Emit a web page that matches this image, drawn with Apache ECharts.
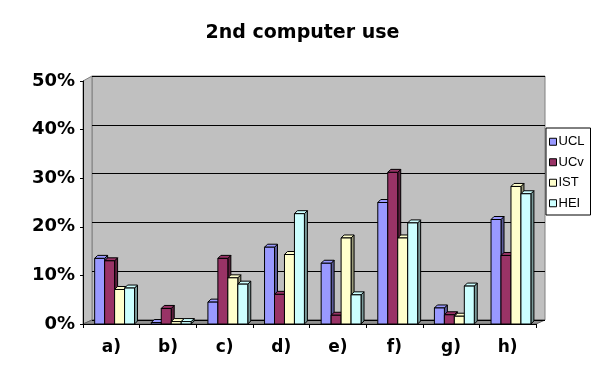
<!DOCTYPE html>
<html>
<head>
<meta charset="utf-8">
<script src="https://cdn.jsdelivr.net/npm/echarts@6/dist/echarts.min.js"></script>
<style>
  html, body { margin: 0; padding: 0; background: #fff; }
  #main { width: 605px; height: 376px; }
</style>
</head>
<body>
<div id="main"></div>
<script>
// categories and values (percent)
var categories = ['a)', 'b)', 'c)', 'd)', 'e)', 'f)', 'g)', 'h)'];
var seriesNames = ['UCL', 'UCv', 'IST', 'HEI'];
var ucl = [13.5, 0.3, 4.5, 15.8, 12.5, 25.0, 3.3, 21.5];
var ucv = [13.0, 3.2, 13.5, 6.1, 1.8, 31.2, 1.9, 14.1];
var ist = [7.1, 0.5, 9.5, 14.3, 17.7, 17.7, 1.6, 28.3];
var hei = [7.4, 0.5, 8.2, 22.7, 6.0, 20.8, 7.8, 26.8];
var yTicks = [0, 10, 20, 30, 40, 50];

var colors = ['#9999ff', '#993366', '#ffffcc', '#ccffff'];
var sides = ['#5c5c99', '#5c1f3d', '#99997a', '#7a9999'];
var font = 'Liberation Sans, Arial, sans-serif';
var boldFont = 'DejaVu Sans, sans-serif';

var myChart = echarts.init(document.getElementById('main'));

function bar3d(params, api) {
    var i = params.seriesIndex;
    var cat = api.value(0), v = api.value(1);
    var base = api.coord([cat, 0]);
    var top = api.coord([cat, v]);
    var band = api.size([1, 0])[0];
    var w = band * 0.176;
    var x0 = base[0] - band / 2 + band * 0.206 + i * w;
    var x1 = x0 + w;
    var yb = base[1], yt = top[1];
    var d = 3;
    var st = { stroke: '#000', lineWidth: 1 };
    return {
        type: 'group',
        children: [
            { type: 'polygon', shape: { points: [[x1, yb], [x1, yt], [x1 + d, yt - d], [x1 + d, yb - d]] },
              style: Object.assign({ fill: sides[i] }, st) },
            { type: 'polygon', shape: { points: [[x0, yt], [x0 + d, yt - d], [x1 + d, yt - d], [x1, yt]] },
              style: Object.assign({ fill: colors[i] }, st) },
            { type: 'rect', shape: { x: x0, y: yt, width: w, height: yb - yt },
              style: Object.assign({ fill: colors[i] }, st) }
        ]
    };
}

var allData = [ucl, ucv, ist, hei];
var series = allData.map(function (arr, i) {
    return {
        name: seriesNames[i],
        type: 'custom',
        xAxisIndex: 1,
        yAxisIndex: 1,
        renderItem: bar3d,
        itemStyle: { color: colors[i], borderColor: '#000', borderWidth: 1 },
        encode: { x: 0, y: 1 },
        data: arr.map(function (v, k) { return [k, v]; }),
        z: 3
    };
});

myChart.setOption({
    backgroundColor: '#ffffff',
    animation: false,
    title: {
        text: '2nd computer use',
        left: 'center',
        top: 19,
        textStyle: { fontFamily: boldFont, fontSize: 19, fontWeight: 'bold', color: '#000' }
    },
    legend: {
        orient: 'vertical',
        left: 546,
        top: 128,
        data: seriesNames.map(function (n, i) {
            return { name: n, icon: 'rect', itemStyle: { color: colors[i], borderColor: '#000', borderWidth: 1 } };
        }),
        itemWidth: 7,
        itemHeight: 7,
        itemGap: 5,
        padding: [6, 6, 4, 3],
        borderColor: '#000',
        borderWidth: 1,
        backgroundColor: '#fff',
        textStyle: { fontFamily: font, fontSize: 13, color: '#000', padding: [0, 0, 0, -3], lineHeight: 15.5 }
    },
    graphic: [
        { type: 'polygon', z: 0, shape: { points: [[83, 81], [92, 76], [92, 320], [83, 324]] },
          style: { fill: '#c0c0c0', stroke: '#808080' } },
        { type: 'polygon', z: 0, shape: { points: [[83, 324], [92, 320], [545, 320], [536, 324]] },
          style: { fill: '#909090', stroke: '#606060' } }
    ],
    grid: [
        { left: 92, right: 60, top: 76, bottom: 56, show: true, backgroundColor: '#c0c0c0', borderColor: '#808080', borderWidth: 1 },
        { left: 83, right: 69, top: 81, bottom: 52 }
    ],
    xAxis: [
        { gridIndex: 0, type: 'category', data: categories, show: false },
        {
            gridIndex: 1, type: 'category', data: categories,
            axisLine: { lineStyle: { color: '#000', width: 1 } },
            axisTick: { show: true, length: 4, lineStyle: { color: '#000' } },
            axisLabel: { fontFamily: boldFont, fontSize: 17, fontWeight: 'bold', color: '#000', margin: 15 }
        }
    ],
    yAxis: [
        {
            gridIndex: 0, type: 'value', min: yTicks[0], max: yTicks[yTicks.length - 1], interval: 10,
            axisLine: { show: false }, axisTick: { show: false }, axisLabel: { show: false },
            splitLine: { lineStyle: { color: '#000', width: 1 } }
        },
        {
            gridIndex: 1, type: 'value', min: yTicks[0], max: yTicks[yTicks.length - 1], interval: 10,
            axisLine: { show: true, lineStyle: { color: '#000' } },
            axisTick: { show: true, length: 3, lineStyle: { color: '#000' } },
            splitLine: { show: false },
            axisLabel: { fontFamily: boldFont, fontSize: 18, fontWeight: 'bold', color: '#000', margin: 8,
                formatter: '{value}%' }
        }
    ],
    series: series
});
</script>
</body>
</html>
